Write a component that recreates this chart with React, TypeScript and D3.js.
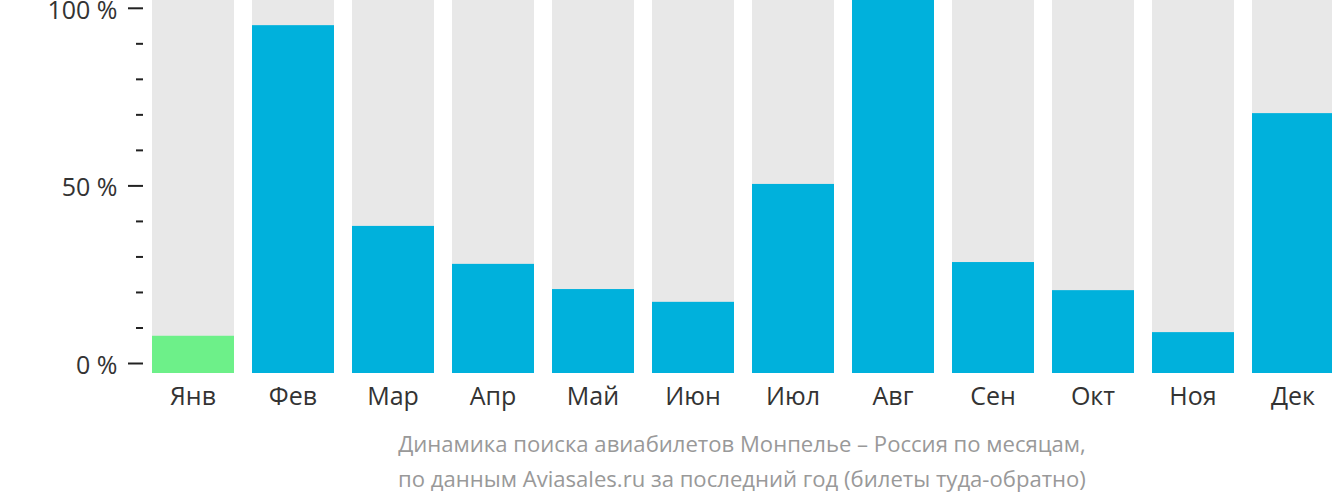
import React from "react";
import * as d3 from "d3";

const months = ["Янв", "Фев", "Мар", "Апр", "Май", "Июн", "Июл", "Авг", "Сен", "Окт", "Ноя", "Дек"];
const values = [10.2, 95.3, 40.3, 29.9, 23.0, 19.5, 51.8, 102.5, 30.4, 22.7, 11.2, 71.2];
const highlight = [true, false, false, false, false, false, false, false, false, false, false, false];
const tickValues = [0, 10, 20, 30, 40, 50, 60, 70, 80, 90, 100];
const labeledTicks = [0, 50, 100];
const captionLines = [
  "Динамика поиска авиабилетов Монпелье – Россия по месяцам,",
  "по данным Aviasales.ru за последний год (билеты туда-обратно)",
];

const W = 1332;
const H = 502;
const FONT = "'Open Sans', 'Noto Sans', sans-serif";

export default function App() {
  const xs = d3
    .scaleBand<string>()
    .domain(months)
    .range([143, 1343])
    .paddingInner(0.18)
    .paddingOuter(0.09);
  const bottom = 373;
  const yBar = d3.scaleLinear().domain([0, 100]).range([bottom, 8]);
  const yTick = d3.scaleLinear().domain([0, 100]).range([363.5, 8.3]);

  return (
    <svg width={W} height={H} style={{ position: "absolute", left: 0, top: 0, display: "block" }}>
      <g>
        {months.map((m, i) => {
          const bx = xs(m)!;
          const bw = xs.bandwidth();
          const top = Math.max(0, yBar(values[i]));
          return (
            <g key={m}>
              <rect x={bx} y={0} width={bw} height={bottom} fill="#e8e8e8" />
              <rect
                x={bx}
                y={top}
                width={bw}
                height={bottom - top}
                fill={highlight[i] ? "#6df089" : "#00b1dc"}
              />
              <text
                x={bx + bw / 2}
                y={404.5}
                textAnchor="middle"
                fontFamily={FONT}
                fontSize={25}
                fill="#333"
              >
                {m}
              </text>
            </g>
          );
        })}
      </g>
      <g>
        {tickValues.map((t) => {
          const major = labeledTicks.includes(t);
          const ty = yTick(t);
          return (
            <g key={t}>
              <line
                x1={major ? 128 : 136}
                x2={143}
                y1={ty}
                y2={ty}
                stroke="#222"
                strokeWidth={2}
              />
              {major && (
                <text
                  x={117.5}
                  y={ty + 10.5}
                  textAnchor="end"
                  fontFamily={FONT}
                  fontSize={25}
                  fill="#333"
                >
                  {`${t} %`}
                </text>
              )}
            </g>
          );
        })}
      </g>
      <g>
        {captionLines.map((line, i) => (
          <text
            key={i}
            x={742}
            y={451.5 + i * 35.5}
            textAnchor="middle"
            fontFamily={FONT}
            fontSize={22.1}
            fill="#999"
          >
            {line}
          </text>
        ))}
      </g>
    </svg>
  );
}
